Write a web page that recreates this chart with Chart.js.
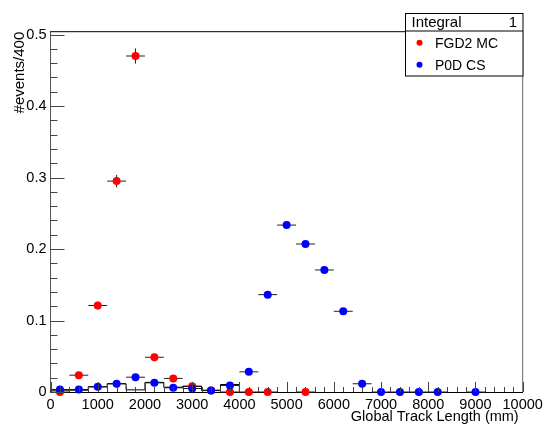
<!DOCTYPE html>
<html>
<head>
<meta charset="utf-8">
<script src="https://cdn.jsdelivr.net/npm/chart.js@4"></script>
<style>
  html, body { margin: 0; padding: 0; background: #ffffff; }
  canvas { display: block; }
</style>
</head>
<body>
<canvas id="c" width="544" height="424"></canvas>
<script>
// Half width of each 400 mm bin (horizontal error bars)
const binHalfWidth = 200;

// FGD2 MC: bin centres (mm), normalised counts, statistical errors
const fgd2Centers = [200, 600, 1000, 1400, 1800, 2200, 2600, 3000, 3400, 3800, 4200, 4600, 5400];
const fgd2Values  = [0, 0.0235, 0.121, 0.295, 0.470, 0.0486, 0.019, 0.008, 0.002, 0, 0, 0, 0];
const fgd2Errors  = [0, 0.003, 0.0055, 0.0087, 0.0105, 0.0035, 0.002, 0.0013, 0.0007, 0, 0, 0, 0];

// P0D CS: bin centres (mm), normalised counts, statistical errors
const p0dCenters = [200, 600, 1000, 1400, 1800, 2200, 2600, 3000, 3400, 3800, 4200, 4600, 5000, 5400, 5800, 6200, 6600, 7000, 7400, 7800, 8200, 9000];
const p0dValues  = [0.0035, 0.0035, 0.0073, 0.0115, 0.0207, 0.0128, 0.0059, 0.0049, 0.0021, 0.0091, 0.0282, 0.1362, 0.2335, 0.207, 0.1707, 0.1129, 0.0115, 0, 0, 0, 0, 0];
const p0dErrors  = [0.0007, 0.0007, 0.001, 0.0013, 0.0017, 0.0013, 0.0009, 0.0008, 0.0005, 0.0011, 0.0019, 0.003, 0.004, 0.0037, 0.0034, 0.0028, 0.0013, 0, 0, 0, 0, 0];

// Outline histogram: left bin edges and contents, plus the closing edge
const outlineEdges  = [0, 400, 800, 1200, 1600, 2000, 2400, 2800, 3200, 3600];
const outlineValues = [0.0025, 0.0025, 0.0073, 0.0115, 0.003, 0.0135, 0.0067, 0.008, 0.0025, 0.0105];
const outlineLastEdge = 4000;

// Legend header
const legendTitle = 'Integral';
const legendValue = '1';

// Axis titles
const xTitle = 'Global Track Length (mm)';
const yTitle = '#events/400';

const FONT = '"Liberation Sans", Arial, Helvetica, sans-serif';

// Step outline as a stepped line: start at baseline, then each bin's level
const outlinePoints = [{ x: outlineEdges[0], y: 0 }]
  .concat(outlineEdges.map((e, i) => ({ x: e, y: outlineValues[i] })))
  .concat([{ x: outlineLastEdge, y: 0 }]);

const rootStyle = {
  id: 'rootStyle',
  beforeDraw(chart) {
    const { ctx, width, height } = chart;
    ctx.save();
    ctx.fillStyle = '#ffffff';
    ctx.fillRect(0, 0, width, height);
    ctx.restore();
  },
  beforeDatasetsDraw(chart) {
    const { ctx, scales: { x, y } } = chart;
    ctx.save();
    ctx.strokeStyle = '#222222';
    ctx.lineWidth = 1;
    chart.data.datasets.forEach(ds => {
      if (!ds.yErrors) return;
      ds.data.forEach((p, i) => {
        const px = x.getPixelForValue(p.x);
        const py = y.getPixelForValue(p.y);
        ctx.beginPath();
        ctx.moveTo(x.getPixelForValue(p.x - binHalfWidth), py);
        ctx.lineTo(x.getPixelForValue(p.x + binHalfWidth), py);
        const e = ds.yErrors[i];
        if (e > 0) {
          ctx.moveTo(px, y.getPixelForValue(p.y + e));
          ctx.lineTo(px, y.getPixelForValue(Math.max(0, p.y - e)));
        }
        ctx.stroke();
      });
    });
    ctx.restore();
  },
  afterDraw(chart) {
    const { ctx, chartArea: a, scales: { x, y } } = chart;
    ctx.save();
    ctx.strokeStyle = '#000000';
    ctx.lineWidth = 1;

    // frame
    ctx.beginPath();
    ctx.moveTo(a.left, a.top); ctx.lineTo(a.right, a.top);
    ctx.stroke();
    ctx.strokeStyle = '#666666';
    ctx.beginPath();
    ctx.moveTo(a.right, a.top); ctx.lineTo(a.right, a.bottom);
    ctx.stroke();

    // inward ticks on the x axis
    ctx.strokeStyle = '#444444';
    const xStep = x.ticks[1].value - x.ticks[0].value;
    ctx.beginPath();
    for (let k = 0; k * xStep / 5 <= x.max + 1e-9; k++) {
      const v = k * xStep / 5;
      const px = Math.round(x.getPixelForValue(v)) + 0.5;
      const len = (k % 5 === 0) ? 10 : 5;
      ctx.moveTo(px, a.bottom);
      ctx.lineTo(px, a.bottom - len);
    }
    ctx.stroke();

    // inward ticks on the y axis
    const yStep = y.ticks[1].value - y.ticks[0].value;
    ctx.beginPath();
    for (let k = 0; k * yStep / 5 <= y.max + 1e-9; k++) {
      const v = k * yStep / 5;
      const py = Math.round(y.getPixelForValue(v)) + 0.5;
      const len = (k % 5 === 0) ? 14 : 7;
      ctx.moveTo(a.left, py);
      ctx.lineTo(a.left + len, py);
    }
    ctx.stroke();

    // axis titles
    ctx.fillStyle = '#000000';
    ctx.font = '14.5px ' + FONT;
    ctx.textAlign = 'right';
    ctx.textBaseline = 'alphabetic';
    ctx.fillText(xTitle, a.right - 4, 420.5);

    ctx.save();
    ctx.translate(24, a.top);
    ctx.rotate(-Math.PI / 2);
    ctx.font = '15px ' + FONT;
    ctx.textAlign = 'right';
    ctx.fillText(yTitle, 0, 0);
    ctx.restore();

    // legend box
    const bx = 405.5, by = 13.5, bw = 117.5, bh = 62.5, headH = 17.5;
    ctx.fillStyle = '#ffffff';
    ctx.fillRect(bx, by, bw, bh);
    ctx.strokeStyle = '#000000';
    ctx.strokeRect(bx, by, bw, bh);
    ctx.beginPath();
    ctx.moveTo(bx, by + headH); ctx.lineTo(bx + bw, by + headH);
    ctx.stroke();

    ctx.fillStyle = '#000000';
    ctx.font = '15px ' + FONT;
    ctx.textAlign = 'left';
    ctx.fillText(legendTitle, 411.5, 26.7);
    ctx.textAlign = 'right';
    ctx.fillText(legendValue, 517, 26.7);

    const entries = chart.data.datasets.filter(d => d.label);
    ctx.font = '14px ' + FONT;
    ctx.textAlign = 'left';
    entries.forEach((d, i) => {
      const cy = 42.7 + i * 22;
      ctx.fillStyle = d.backgroundColor;
      ctx.beginPath();
      ctx.arc(419.5, cy, 3, 0, Math.PI * 2);
      ctx.fill();
      ctx.fillStyle = '#000000';
      ctx.fillText(d.label, 435, cy + 4.8);
    });

    ctx.restore();
  }
};

new Chart(document.getElementById('c'), {
  type: 'scatter',
  data: {
    datasets: [
      {
        label: 'FGD2 MC',
        data: fgd2Centers.map((c, i) => ({ x: c, y: fgd2Values[i] })),
        yErrors: fgd2Errors,
        backgroundColor: '#ff0000',
        borderColor: '#ff0000',
        pointRadius: 4,
        pointHoverRadius: 4,
        pointBorderWidth: 0,
        clip: false,
        order: 1
      },
      {
        label: 'P0D CS',
        data: p0dCenters.map((c, i) => ({ x: c, y: p0dValues[i] })),
        yErrors: p0dErrors,
        backgroundColor: '#0000ff',
        borderColor: '#0000ff',
        pointRadius: 4,
        pointHoverRadius: 4,
        pointBorderWidth: 0,
        clip: false,
        order: 0
      },
      {
        type: 'line',
        label: '',
        data: outlinePoints,
        borderColor: '#000000',
        backgroundColor: 'rgba(0,0,0,0)',
        borderWidth: 1,
        stepped: 'before',
        pointRadius: 0,
        fill: false,
        tension: 0,
        order: 2
      }
    ]
  },
  options: {
    responsive: false,
    animation: false,
    devicePixelRatio: 1,
    layout: { padding: { left: 0, right: 21.3, top: 31.7, bottom: 0 } },
    plugins: {
      legend: { display: false },
      tooltip: { enabled: false },
      title: { display: false }
    },
    scales: {
      x: {
        type: 'linear',
        min: 0,
        max: 10000,
        grid: { display: true, drawOnChartArea: false, drawTicks: false },
        border: { display: true, color: '#000000', width: 1 },
        ticks: {
          stepSize: 1000,
          autoSkip: false,
          maxRotation: 0,
          minRotation: 0,
          includeBounds: false,
          padding: 4,
          color: '#000000',
          font: { family: FONT, size: 14.5 },
          callback: v => String(v)
        },
        afterFit: s => { s.height = 32; s.paddingLeft = 0; s.paddingRight = 0; }
      },
      y: {
        type: 'linear',
        min: 0,
        max: 0.504,
        grid: { display: true, drawOnChartArea: false, drawTicks: false },
        border: { display: true, color: '#555555', width: 1 },
        ticks: {
          stepSize: 0.1,
          includeBounds: false,
          padding: 4,
          color: '#000000',
          font: { family: FONT, size: 14.5 },
          callback: v => String(Math.round(v * 10) / 10)
        },
        afterFit: s => { s.width = 50.5; s.paddingTop = 0; s.paddingBottom = 0; }
      }
    }
  },
  plugins: [rootStyle]
});
</script>
</body>
</html>
